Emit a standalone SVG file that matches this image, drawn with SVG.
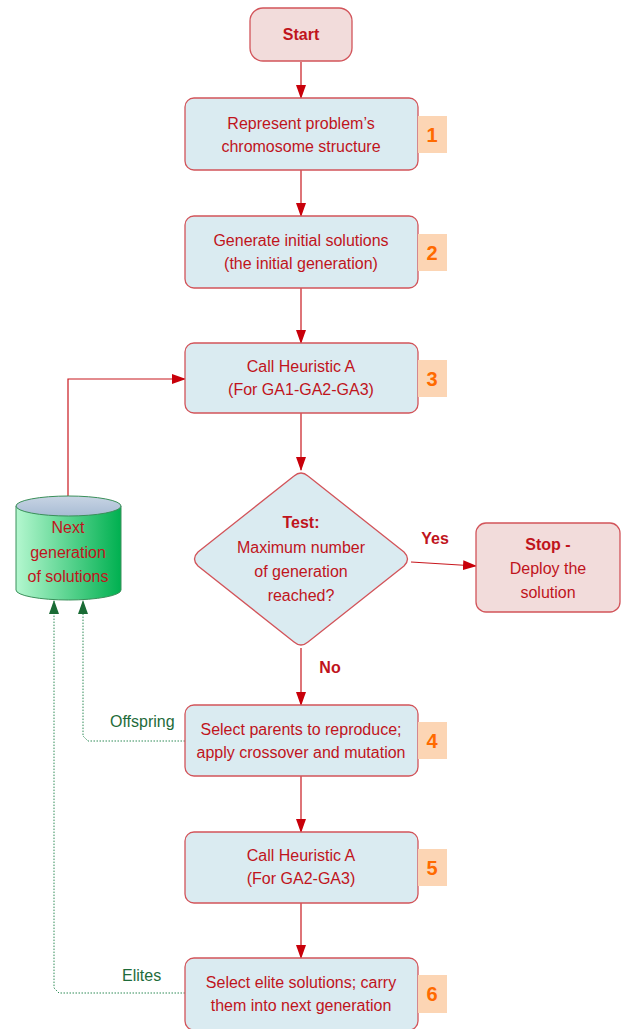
<svg xmlns="http://www.w3.org/2000/svg" width="622" height="1029" viewBox="0 0 622 1029">
<defs>
<style>
.box{fill:#daebf1;stroke:#d2545a;stroke-width:1.3}
.term{fill:#f2dcdb;stroke:#d2545a;stroke-width:1.3}
.t{font-family:"Liberation Sans",Arial,sans-serif;font-size:16px;fill:#c0141c;text-anchor:middle}
.b{font-weight:bold}
.badge{fill:#fcd5b4}
.num{font-family:"Liberation Sans",Arial,sans-serif;font-size:20px;font-weight:bold;fill:#ff6a00;text-anchor:middle}
.red{stroke:#c8181e;stroke-width:1.2;fill:none}
.grn{stroke:#2e8b57;stroke-width:1;fill:none;stroke-dasharray:1.5,1.5}
.gl{font-family:"Liberation Sans",Arial,sans-serif;font-size:16px;fill:#1e6b3a}
</style>
<marker id="ar" markerWidth="14" markerHeight="10" refX="13" refY="5" orient="auto" markerUnits="userSpaceOnUse">
<path d="M0,0 L14,5 L0,10 Z" fill="#c8000a"/>
</marker>
<marker id="ag" markerWidth="14" markerHeight="10" refX="13" refY="5" orient="auto" markerUnits="userSpaceOnUse">
<path d="M0,0 L14,5 L0,10 Z" fill="#1a6b35"/>
</marker>
<linearGradient id="cyl" x1="0" y1="0" x2="1" y2="0">
<stop offset="0" stop-color="#b4f7cf"/>
<stop offset="1" stop-color="#00b050"/>
</linearGradient>
<linearGradient id="cyltop" x1="0" y1="0" x2="0" y2="1">
<stop offset="0" stop-color="#c8d4e4"/>
<stop offset="1" stop-color="#a8bcd4"/>
</linearGradient>
</defs>

<g id="connectors">
<line class="red" x1="301" y1="62" x2="301" y2="98" marker-end="url(#ar)"/>
<line class="red" x1="301" y1="170" x2="301" y2="216" marker-end="url(#ar)"/>
<line class="red" x1="301" y1="288" x2="301" y2="343" marker-end="url(#ar)"/>
<line class="red" x1="301" y1="413" x2="301" y2="470" marker-end="url(#ar)"/>
<line class="red" x1="301" y1="648" x2="301" y2="705" marker-end="url(#ar)"/>
<line class="red" x1="301" y1="776" x2="301" y2="832" marker-end="url(#ar)"/>
<line class="red" x1="301" y1="903" x2="301" y2="958" marker-end="url(#ar)"/>
<line class="red" x1="411" y1="562" x2="476" y2="566" marker-end="url(#ar)"/>
<polyline class="red" points="68,497 68,379 185,379" marker-end="url(#ar)"/>
<polyline class="grn" points="185,741 88,741 83,736 83,601" marker-end="url(#ag)"/>
<polyline class="grn" points="185,993 59,993 54,988 54,601" marker-end="url(#ag)"/>
<text class="t b" x="435" y="544">Yes</text>
<text class="t b" x="330" y="673">No</text>
<text class="gl" x="110" y="727">Offspring</text>
<text class="gl" x="122" y="981">Elites</text>
</g>

<g id="start">
<rect class="term" x="250" y="8" width="102" height="53" rx="13"/>
<text class="t b" x="301" y="40">Start</text>
</g>

<g id="step1">
<rect class="box" x="185" y="98" width="233" height="72" rx="9"/>
<text class="t" x="301" y="129">Represent problem’s</text>
<text class="t" x="301" y="152">chromosome structure</text>
<rect class="badge" x="418" y="116" width="29" height="37"/>
<text class="num" x="432" y="142">1</text>
</g>

<g id="step2">
<rect class="box" x="185" y="216" width="233" height="72" rx="9"/>
<text class="t" x="301" y="246">Generate initial solutions</text>
<text class="t" x="301" y="269">(the initial generation)</text>
<rect class="badge" x="418" y="234" width="29" height="37"/>
<text class="num" x="432" y="260">2</text>
</g>

<g id="step3">
<rect class="box" x="185" y="343" width="233" height="70" rx="9"/>
<text class="t" x="301" y="372">Call Heuristic A</text>
<text class="t" x="301" y="395">(For GA1-GA2-GA3)</text>
<rect class="badge" x="418" y="360" width="29" height="37"/>
<text class="num" x="432" y="386">3</text>
</g>

<g id="test">
<path class="box" d="M294,476 Q301,470 308,476 L404,552 Q411,559 404,566 L308,642 Q301,648 294,642 L198,566 Q191,559 198,552 Z"/>
<text class="t b" x="301" y="528">Test:</text>
<text class="t" x="301" y="553">Maximum number</text>
<text class="t" x="301" y="577">of generation</text>
<text class="t" x="301" y="601">reached?</text>
</g>

<g id="stop">
<rect class="term" x="476" y="523" width="144" height="89" rx="10"/>
<text class="t b" x="548" y="550">Stop -</text>
<text class="t" x="548" y="574">Deploy the</text>
<text class="t" x="548" y="598">solution</text>
</g>

<g id="nextgen">
<path d="M16,506 L16,590 A52.5,10 0 0 0 121,590 L121,506 Z" fill="url(#cyl)" stroke="#3a8f5a" stroke-width="1"/>
<ellipse cx="68.5" cy="506" rx="52.5" ry="10" fill="url(#cyltop)" stroke="#3a8f5a" stroke-width="1"/>
<text class="t" x="68" y="533">Next</text>
<text class="t" x="68" y="558">generation</text>
<text class="t" x="68" y="582">of solutions</text>
</g>

<g id="step4">
<rect class="box" x="185" y="705" width="233" height="71" rx="9"/>
<text class="t" x="301" y="735">Select parents to reproduce;</text>
<text class="t" x="301" y="758">apply crossover and mutation</text>
<rect class="badge" x="418" y="722" width="29" height="37"/>
<text class="num" x="432" y="748">4</text>
</g>

<g id="step5">
<rect class="box" x="185" y="832" width="233" height="71" rx="9"/>
<text class="t" x="301" y="861">Call Heuristic A</text>
<text class="t" x="301" y="884">(For GA2-GA3)</text>
<rect class="badge" x="418" y="849" width="29" height="37"/>
<text class="num" x="432" y="875">5</text>
</g>

<g id="step6">
<rect class="box" x="185" y="958" width="233" height="72" rx="9"/>
<text class="t" x="301" y="988">Select elite solutions; carry</text>
<text class="t" x="301" y="1011">them into next generation</text>
<rect class="badge" x="418" y="975" width="29" height="38"/>
<text class="num" x="432" y="1001">6</text>
</g>
</svg>
